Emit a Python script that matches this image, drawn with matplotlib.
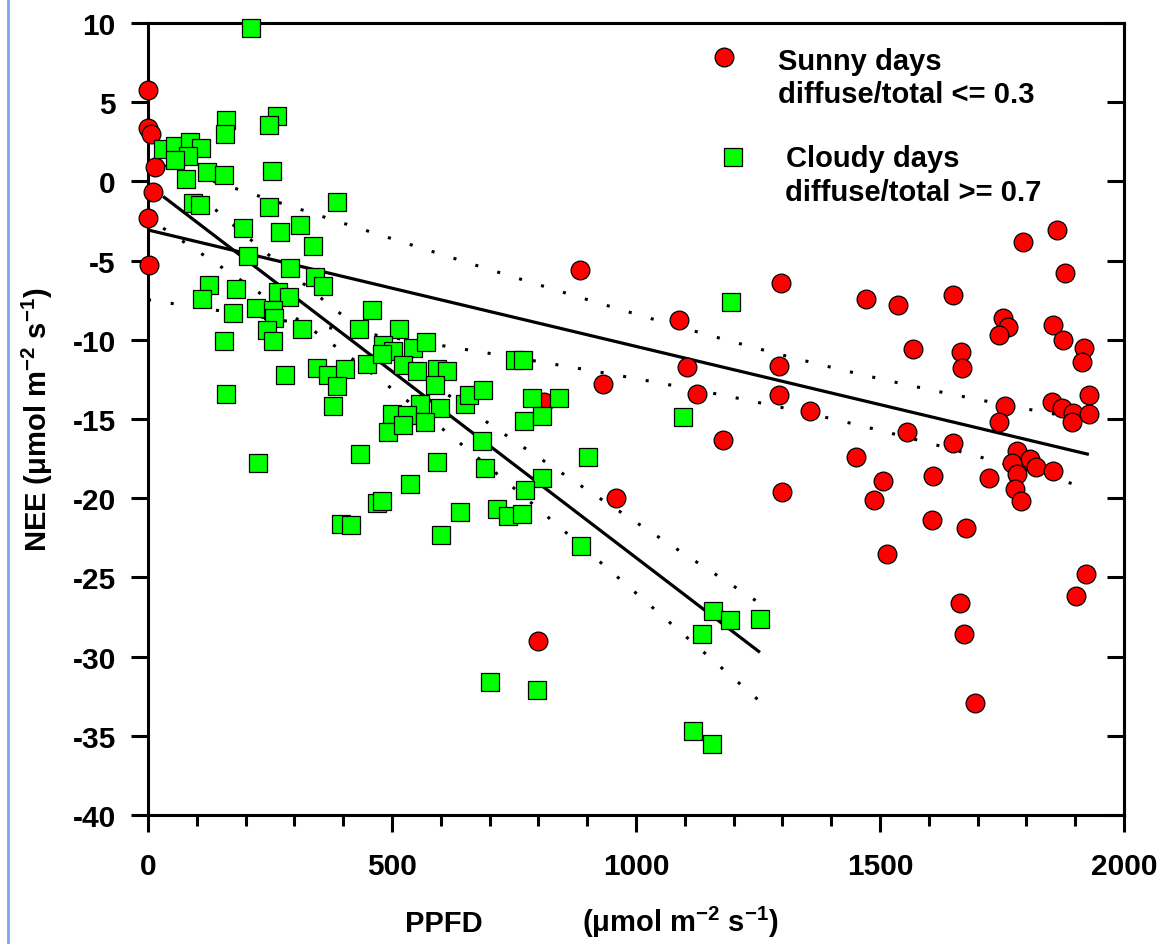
import numpy as np
import matplotlib
matplotlib.use("Agg")
import matplotlib.pyplot as plt
from matplotlib.lines import Line2D
from matplotlib.ticker import MultipleLocator, FixedLocator

# ---- data: PPFD (umol m-2 s-1) and NEE (umol m-2 s-1) ----
# Sunny days, diffuse/total <= 0.3
sunny_ppfd = [0, 0, 6, 14, 10, 0, 2,
              885, 811, 1297, 1088, 1105, 932, 1125, 1293, 1293, 1178,
              1299, 959, 799, 1356,
              1863, 1793, 1879, 1471, 1537, 1650, 1752, 1762, 1744, 1855,
              1875, 1918, 1914, 1568, 1666, 1668, 1756, 1744, 1852, 1873,
              1895, 1928, 1928, 1893, 1555, 1650, 1451, 1780, 1807, 1770,
              1820, 1855, 1780, 1777, 1789, 1723, 1609, 1506, 1488, 1606,
              1676, 1514, 1922, 1902, 1664, 1672, 1695]
sunny_nee = [5.8, 3.4, 3.0, 0.9, -0.7, -2.3, -5.3,
             -5.6, -13.9, -6.4, -8.75, -11.7, -12.8, -13.4, -11.65, -13.5, -16.3,
             -19.6, -20.0, -29.0, -14.5,
             -3.07, -3.83, -5.78, -7.42, -7.8, -7.17, -8.62, -9.2, -9.7, -9.07,
             -10.0, -10.5, -11.4, -10.6, -10.8, -11.8, -14.2, -15.2, -13.9, -14.3,
             -14.6, -13.5, -14.7, -15.2, -15.8, -16.5, -17.4, -17.0, -17.5, -17.8,
             -18.0, -18.3, -18.5, -19.4, -20.2, -18.7, -18.6, -18.9, -20.1, -21.4,
             -21.9, -23.5, -24.8, -26.2, -26.6, -28.6, -32.9]

# Cloudy days, diffuse/total >= 0.7
cloudy_ppfd = [211, 264, 248, 160, 158, 31, 55, 86, 109, 82,
               55, 78, 120, 156, 254, 93, 107, 388, 247, 195,
               270, 311, 339, 205, 291, 342, 358, 124, 180, 267,
               289, 110, 221, 257, 174, 259, 315, 459, 433, 243,
               515, 156, 256, 281, 346, 369, 404, 387, 449, 482,
               502, 543, 570, 480, 523, 551, 592, 612, 588, 160,
               380, 557, 598, 500, 530, 568, 492, 523, 650, 658,
               686, 752, 768, 787, 842, 770, 807, 684, 434, 592,
               690, 902, 537, 807, 772, 469, 480, 639, 715, 738,
               766, 396, 417, 600, 887, 226, 1195, 1096, 701, 797,
               1158, 1193, 1254, 1135, 1117, 1156]
cloudy_nee = [9.7, 4.1, 3.55, 3.9, 3.0, 2.05, 2.25, 2.5, 2.1, 1.6,
              1.35, 0.15, 0.6, 0.4, 0.66, -1.36, -1.5, -1.3, -1.63, -2.95,
              -3.2, -2.75, -4.1, -4.7, -5.47, -6.05, -6.6, -6.55, -6.8, -7.0,
              -7.3, -7.4, -8.0, -8.1, -8.3, -8.6, -9.3, -8.1, -9.3, -9.4,
              -9.3, -10.1, -10.1, -12.2, -11.8, -12.2, -11.85, -12.9, -11.5, -10.3,
              -10.7, -10.5, -10.15, -10.9, -11.6, -12.0, -11.85, -12.0, -12.85, -13.4,
              -14.2, -14.05, -14.3, -14.7, -14.75, -15.2, -15.8, -15.4, -14.05, -13.5,
              -13.2, -11.3, -11.3, -13.7, -13.7, -15.1, -14.8, -16.4, -17.2, -17.7,
              -18.1, -17.4, -19.1, -18.7, -19.5, -20.3, -20.2, -20.9, -20.7, -21.1,
              -21.0, -21.6, -21.7, -22.3, -23.0, -17.8, -7.6, -14.9, -31.6, -32.1,
              -27.1, -27.7, -27.6, -28.6, -34.7, -35.5]

x_ticks = [0, 500, 1000, 1500, 2000]
y_ticks = [10, 5, 0, -5, -10, -15, -20, -25, -30, -35, -40]

sunny_label = ["Sunny days", "diffuse/total <= 0.3"]
cloudy_label = ["Cloudy days", "diffuse/total >= 0.7"]

# ---- style ----
plt.rcParams["font.family"] = ["Liberation Sans", "DejaVu Sans"]
plt.rcParams["font.weight"] = "bold"
plt.rcParams["axes.unicode_minus"] = False
plt.rcParams["mathtext.fontset"] = "custom"
plt.rcParams["mathtext.rm"] = "Liberation Sans:bold"
plt.rcParams["mathtext.bf"] = "Liberation Sans:bold"
plt.rcParams["mathtext.it"] = "Liberation Sans:bold"
plt.rcParams["mathtext.default"] = "bf"

W, H = 1163, 945
fig = plt.figure(figsize=(W / 100, H / 100), dpi=100)
fig.patch.set_facecolor("white")


def fpos(px, py):
    """Pixel position (from top-left) to figure fraction."""
    return px / W, 1 - py / H


ax_left, ax_right, ax_top, ax_bottom = 148, 1124, 24, 816
ax = fig.add_axes([ax_left / W, 1 - ax_bottom / H,
                   (ax_right - ax_left) / W, (ax_bottom - ax_top) / H])
ax.set_xlim(0, 2000)
ax.set_ylim(-40, 10)

LW = 2.2
for sp in ax.spines.values():
    sp.set_linewidth(LW)

TICK_FS = 21.5
ax.xaxis.set_major_locator(FixedLocator(x_ticks))
ax.xaxis.set_minor_locator(MultipleLocator(100))
ax.yaxis.set_major_locator(FixedLocator(y_ticks))
ax.tick_params(axis="x", which="major", direction="out", length=12.2, width=LW,
               pad=14.5, labelsize=TICK_FS, top=False)
ax.tick_params(axis="x", which="minor", direction="out", length=8, width=LW, top=False)
ax.tick_params(axis="y", which="major", direction="out", length=12.2, width=LW,
               pad=11, labelsize=TICK_FS, right=False)
for lab in ax.get_xticklabels() + ax.get_yticklabels():
    lab.set_fontweight("bold")

# inward ticks on the right-hand frame
sec = ax.secondary_yaxis("right")
sec.yaxis.set_major_locator(FixedLocator(y_ticks))
sec.tick_params(direction="in", length=12.2, width=LW, labelright=False)
sec.spines["right"].set_linewidth(LW)


# ---- least-squares fits with 95 % confidence bands ----
def t_975(df):
    z = 1.959964
    return z + (z ** 3 + z) / (4 * df) + (5 * z ** 5 + 16 * z ** 3 + 3 * z) / (96 * df ** 2)


def fit_with_band(x, y, num=300):
    x = np.asarray(x, float)
    y = np.asarray(y, float)
    n = x.size
    slope, intercept = np.polyfit(x, y, 1)
    resid = y - (intercept + slope * x)
    s = np.sqrt(resid @ resid / (n - 2))
    xm = x.mean()
    sxx = ((x - xm) ** 2).sum()
    xs = np.linspace(x.min(), x.max(), num)
    fit = intercept + slope * xs
    half = t_975(n - 2) * s * np.sqrt(1.0 / n + (xs - xm) ** 2 / sxx)
    return xs, fit, fit - half, fit + half


for xs_, ys_ in [(sunny_ppfd, sunny_nee), (cloudy_ppfd, cloudy_nee)]:
    xs, fit, lo, hi = fit_with_band(xs_, ys_)
    ax.plot(xs, fit, color="black", lw=2.3, solid_capstyle="butt", zorder=2)
    for band in (lo, hi):
        ax.plot(xs, band, color="black", lw=2.2, linestyle=(0, (1, 6.5)),
                dash_capstyle="butt", zorder=2)

# ---- scatter ----
ax.plot(sunny_ppfd, sunny_nee, linestyle="none", marker="o", ms=13.5,
        mfc="#ff0000", mec="black", mew=0.9, zorder=4, clip_on=False)
ax.plot(cloudy_ppfd, cloudy_nee, linestyle="none", marker="s", ms=12.5,
        mfc="#00ff00", mec="black", mew=0.9, zorder=5, clip_on=False)

# ---- legend ----
fig.add_artist(Line2D([fpos(724, 58)[0]], [fpos(724, 58)[1]], marker="o", ms=13.5,
                      mfc="#ff0000", mec="black", mew=0.9, linestyle="none"))
fig.add_artist(Line2D([fpos(733, 158)[0]], [fpos(733, 158)[1]], marker="s", ms=12.5,
                      mfc="#00ff00", mec="black", mew=0.9, linestyle="none"))
legend_fs = 21
fig.text(*fpos(778, 70), sunny_label[0], fontsize=legend_fs, fontweight="bold",
         ha="left", va="baseline")
fig.text(*fpos(778, 103), sunny_label[1], fontsize=legend_fs, fontweight="bold",
         ha="left", va="baseline")
fig.text(*fpos(786, 167), cloudy_label[0], fontsize=legend_fs, fontweight="bold",
         ha="left", va="baseline")
fig.text(*fpos(785, 201), cloudy_label[1], fontsize=legend_fs, fontweight="bold",
         ha="left", va="baseline")

# ---- axis titles ----
fig.text(*fpos(405, 932), "PPFD", fontsize=21, fontweight="bold",
         ha="left", va="baseline")
fig.text(*fpos(778, 932), r"($\mu$mol m$^{-2}$ s$^{-1}$)", fontsize=21,
         fontweight="bold", ha="right", va="baseline")
fig.text(*fpos(37, 420), r"NEE ($\mu$mol m$^{-2}$ s$^{-1}$)", fontsize=21,
         fontweight="bold", ha="center", va="center", rotation=90)

# window edge on the left
fig.add_artist(Line2D([8 / W, 8 / W], [0, 1], color="#7ea6ea", lw=2))

fig.savefig("out.png", dpi=100, facecolor="white")
